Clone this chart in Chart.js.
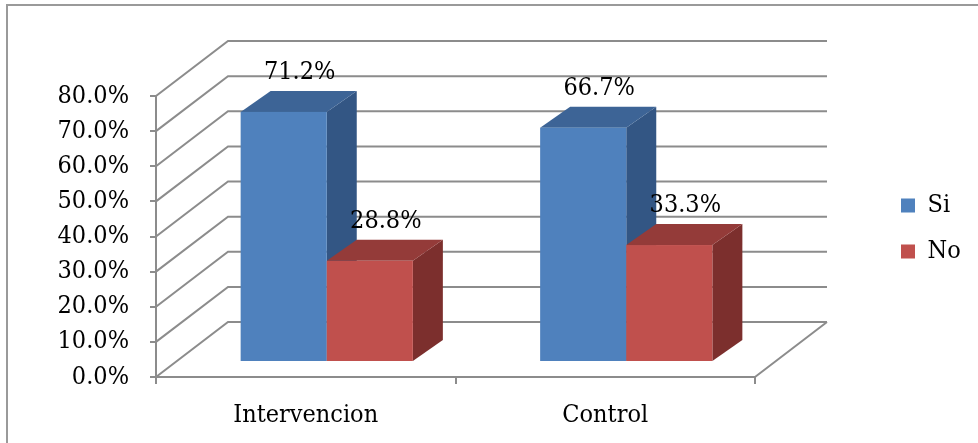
<!DOCTYPE html>
<html>
<head>
<meta charset="utf-8">
<script src="https://cdn.jsdelivr.net/npm/chart.js@4.4.1/dist/chart.umd.min.js"></script>
<style>
  html, body { margin: 0; padding: 0; background: #fff; }
  #wrap { width: 978px; height: 443px; }
</style>
</head>
<body>
<div id="wrap"><canvas id="myChart" width="978" height="443"></canvas></div>
<script>
const categories = ["Intervencion", "Control"];
const siValues = [71.2, 66.7];
const noValues = [28.8, 33.3];
const yTicks = [0, 10, 20, 30, 40, 50, 60, 70, 80];

const FONT = "'DejaVu Serif Condensed', 'Liberation Serif', serif";
const FSIZE = 25;
const GRID = "#8c8c8c";
// offsets used to fake the excel 3D look
const WALL = { dx: 72, dy: -55 };
const BAR_FRONT = { dx: 21, dy: -15 };
const BAR_DEPTH = { dx: 30, dy: -21 };

const shades = {
  Si: { front: "#4F81BD", top: "#3D6496", side: "#335684" },
  No: { front: "#C0504D", top: "#943B39", side: "#7C2F2D" },
};

function poly(c, pts, fill) {
  c.beginPath();
  c.moveTo(pts[0][0], pts[0][1]);
  for (let i = 1; i < pts.length; i++) c.lineTo(pts[i][0], pts[i][1]);
  c.closePath();
  c.fillStyle = fill;
  c.fill();
}

const box3d = {
  id: "box3d",
  beforeDraw(chart) {
    const c = chart.ctx;
    c.save();
    c.fillStyle = "#fff";
    c.fillRect(0, 0, chart.width, chart.height);
    c.strokeStyle = "#9a9a9a";
    c.lineWidth = 2;
    c.strokeRect(7, 5, chart.width + 20, chart.height + 20);
    c.restore();
  },
  afterLayout(chart) {
    // move legend to the right side, chart area keeps its size
    const lg = chart.legend;
    lg.left = 880;
    lg.right = lg.left + lg.width;
    lg.top = 172;
    lg.bottom = lg.top + 200;
  },
  beforeDatasetsDraw(chart) {
    const c = chart.ctx;
    const ys = chart.scales.y;
    const L = chart.chartArea.left, R = chart.chartArea.right;
    c.save();

    // back wall + side wall grid
    c.strokeStyle = GRID;
    c.lineWidth = 2;
    c.beginPath();
    yTicks.forEach((v) => {
      const py = ys.getPixelForValue(v);
      c.moveTo(L, py);
      c.lineTo(L + WALL.dx, py + WALL.dy);
      c.lineTo(R + WALL.dx, py + WALL.dy);
    });
    const p0 = ys.getPixelForValue(0);
    c.moveTo(R, p0);
    c.lineTo(R + WALL.dx, p0 + WALL.dy);
    c.stroke();

    // bars
    const labels = [];
    categories.forEach((_, i) => {
      chart.data.datasets.forEach((ds, d) => {
        const el = chart.getDatasetMeta(d).data[i];
        const { x, y, base, width } = el.getProps(["x", "y", "base", "width"], true);
        const sh = shades[ds.label];
        const l = x - width / 2 + BAR_FRONT.dx;
        const r = l + width;
        const t = y + BAR_FRONT.dy;
        const b = base + BAR_FRONT.dy;
        poly(c, [[r, t], [r + BAR_DEPTH.dx, t + BAR_DEPTH.dy], [r + BAR_DEPTH.dx, b + BAR_DEPTH.dy], [r, b]], sh.side);
        poly(c, [[l, t], [l + BAR_DEPTH.dx, t + BAR_DEPTH.dy], [r + BAR_DEPTH.dx, t + BAR_DEPTH.dy], [r, t]], sh.top);
        c.fillStyle = sh.front;
        c.fillRect(l, t, width, b - t);
        labels.push([ds.data[i].toFixed(1) + "%", x + BAR_FRONT.dx + 16, t + BAR_DEPTH.dy - 12]);
      });
    });

    c.fillStyle = "#000";
    c.font = FSIZE + "px " + FONT;
    c.textAlign = "center";
    c.textBaseline = "alphabetic";
    labels.forEach(([txt, lx, ly]) => c.fillText(txt, lx, ly));
    c.restore();
    return false;
  },
};

new Chart(document.getElementById("myChart"), {
  type: "bar",
  data: {
    labels: categories,
    datasets: [
      { label: "Si", data: siValues, backgroundColor: shades.Si.front },
      { label: "No", data: noValues, backgroundColor: shades.No.front },
    ],
  },
  options: {
    responsive: false,
    animation: false,
    layout: { padding: { top: 96, right: 223, bottom: 0, left: 0 } },
    datasets: { bar: { categoryPercentage: 0.575, barPercentage: 1 } },
    plugins: {
      legend: {
        position: "chartArea",
        align: "start",
        labels: {
          boxWidth: 14,
          boxHeight: 14,
          padding: 21,
          color: "#000",
          font: { family: FONT, size: FSIZE },
        },
      },
      tooltip: { enabled: false },
    },
    scales: {
      x: {
        grid: { drawOnChartArea: false, tickLength: 7, color: GRID, lineWidth: 2 },
        border: { color: GRID, width: 2 },
        ticks: { color: "#000", padding: 16, font: { family: FONT, size: FSIZE } },
        afterFit: (s) => { s.height = 66; },
      },
      y: {
        min: 0,
        max: 80,
        grid: { drawOnChartArea: false, tickLength: 6, color: GRID, lineWidth: 2 },
        border: { color: GRID, width: 2 },
        ticks: {
          stepSize: 10,
          padding: 21,
          color: "#000",
          font: { family: FONT, size: FSIZE },
          callback: (v) => v.toFixed(1) + "%",
        },
        afterFit: (s) => { s.width = 156; },
      },
    },
  },
  plugins: [box3d],
});
</script>
</body>
</html>
